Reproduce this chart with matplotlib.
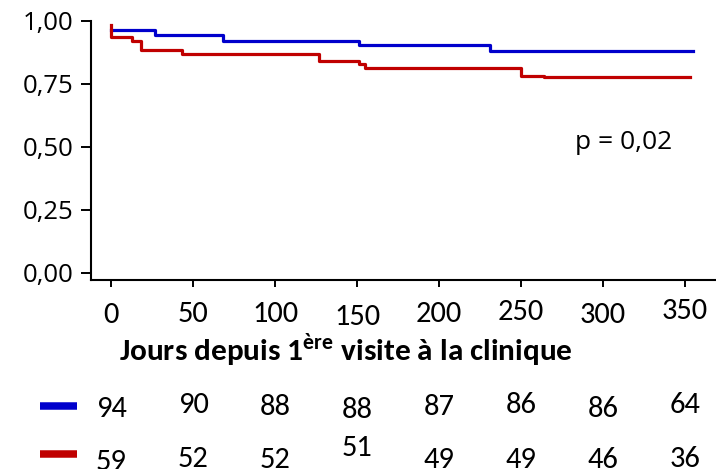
import matplotlib
matplotlib.use("Agg")
import matplotlib.pyplot as plt
from matplotlib.transforms import blended_transform_factory

# survival curves (Kaplan-Meier)
blue_days = [0, 27, 68, 151, 231, 355]
blue_surv = [0.964, 0.944, 0.922, 0.905, 0.882, 0.882]
red_days = [0, 0, 13, 18, 43, 127, 151, 155, 250, 264, 353]
red_surv = [0.985, 0.935, 0.922, 0.885, 0.869, 0.842, 0.828, 0.812, 0.781, 0.776, 0.776]

x_ticks = [0, 50, 100, 150, 200, 250, 300, 350]
y_ticks = [0.0, 0.25, 0.5, 0.75, 1.0]
y_labels = ["0,00", "0,25", "0,50", "0,75", "1,00"]

# numbers at risk
blue_risk = [94, 90, 88, 88, 87, 86, 86, 64]
red_risk = [59, 52, 52, 51, 49, 49, 46, 36]

p_text = "p = 0,02"
x_title = r"Jours depuis 1$^{\mathbf{ère}}$ visite à la clinique"

BLUE = "#0000CC"
RED = "#C00000"

# baselines of the text rows, in reference pixels from the top
tick_base = [323, 322, 322, 325, 322, 320, 323, 319]
blue_base = [417, 413, 415, 418, 415, 413, 417, 413]
red_base = [470, 467, 468, 456, 468, 468, 468, 467]

plt.rcParams["font.family"] = ["Open Sans", "DejaVu Sans"]
plt.rcParams["mathtext.fontset"] = "custom"
plt.rcParams["mathtext.bf"] = "Carlito:bold"
CAL = ["Carlito", "DejaVu Sans"]

W, H = 716, 469
fig = plt.figure(figsize=(W / 100, H / 100), dpi=100)
left, right, top, bottom = 91, 716, 21, 280
ax = fig.add_axes([left / W, (H - bottom) / H, (right - left) / W, (bottom - top) / H])


def yax(py):
    # reference pixel row -> axes fraction
    return ((H - py) - (H - bottom)) / (bottom - top)


ax.step(blue_days, blue_surv, where="post", color=BLUE, lw=2.3, clip_on=False)
ax.step(red_days, red_surv, where="post", color=RED, lw=2.3, clip_on=False)

ax.set_xlim(-12.2, 368.8)
ax.set_ylim(-0.029, 1.0)

for s in ["top", "right"]:
    ax.spines[s].set_visible(False)
for s in ["left", "bottom"]:
    ax.spines[s].set_linewidth(1.5)

ax.set_yticks(y_ticks, y_labels)
ax.tick_params(axis="y", length=7.2, width=1.4, pad=5.5, labelsize=18.5)
ax.set_xticks(x_ticks)
ax.tick_params(axis="x", length=5, width=1.4, labelbottom=False)

tr = blended_transform_factory(ax.transData, ax.transAxes)
for x, lab, b in zip(x_ticks, x_ticks, tick_base):
    ax.text(x, yax(b), str(lab), transform=tr, ha="center", va="baseline",
            fontsize=22, family=CAL, clip_on=False)
for x, n, b in zip(x_ticks, blue_risk, blue_base):
    ax.text(x, yax(b), str(n), transform=tr, ha="center", va="baseline",
            fontsize=22, family=CAL, clip_on=False)
for x, n, b in zip(x_ticks, red_risk, red_base):
    ax.text(x, yax(b), str(n), transform=tr, ha="center", va="baseline",
            fontsize=22, family=CAL, clip_on=False)

# legend keys next to the at-risk rows
kx = [(40 - left) / (right - left), (77 - left) / (right - left)]
ax.plot(kx, [yax(405.5)] * 2, transform=ax.transAxes, color=BLUE, lw=5.4,
        solid_capstyle="butt", clip_on=False)
ax.plot(kx, [yax(454)] * 2, transform=ax.transAxes, color=RED, lw=5.4,
        solid_capstyle="butt", clip_on=False)

ax.text(283, 0.49, p_text, fontsize=19, ha="left", va="baseline")

ax.text(143, yax(362), x_title, transform=tr, ha="center", va="baseline",
        fontsize=22.5, fontweight="bold", family=CAL, clip_on=False)

fig.savefig("out.png", dpi=100)
